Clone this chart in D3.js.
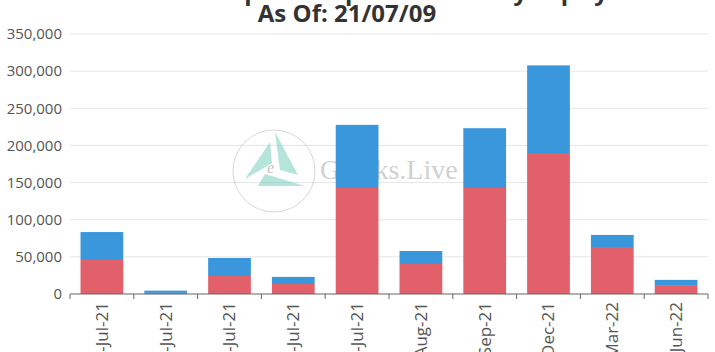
<!DOCTYPE html>
<html>
<head>
<meta charset="utf-8">
<script src="https://cdn.jsdelivr.net/npm/d3@7"></script>
<style>
  body { margin: 0; background: #fff; }
  svg { display: block; font-family: "Open Sans", "Noto Sans", sans-serif; }
</style>
</head>
<body>
<svg width="715" height="352"></svg>
<script>
const expiries = ["9-Jul-21", "10-Jul-21", "16-Jul-21", "23-Jul-21", "30-Jul-21",
                  "27-Aug-21", "24-Sep-21", "31-Dec-21", "25-Mar-22", "24-Jun-22"];
const puts  = [45800, 1500, 24200, 13500, 142700, 40400, 142700, 189800, 62000, 12000];
const calls = [37600, 3000, 24300,  9500,  85000, 17500,  80500, 118000, 17500,  7000];
const yTicks = [0, 50000, 100000, 150000, 200000, 250000, 300000, 350000];

const svg = d3.select("svg"),
      margin = { top: 34, right: 7, bottom: 58, left: 70 },
      width = +svg.attr("width") - margin.left - margin.right,
      height = +svg.attr("height") - margin.top - margin.bottom;

const g = svg.append("g").attr("transform", `translate(${margin.left},${margin.top})`);

const x = d3.scaleBand().domain(expiries).range([0, width]).paddingInner(0.33).paddingOuter(0.165);
const y = d3.scaleLinear().domain([0, 350000]).range([height, 0]);

// Title (first line runs off the top)
svg.append("text")
  .attr("x", 346).attr("y", 0)
  .attr("text-anchor", "middle")
  .style("font-size", "24px").style("font-weight", "bold").style("fill", "#333")
  .text("Deribit BTC Options Open Interest by Expiry");
svg.append("text")
  .attr("x", 347).attr("y", 22)
  .attr("text-anchor", "middle")
  .style("font-size", "24px").style("font-weight", "bold").style("fill", "#333")
  .text("As Of: 21/07/09");

// Grid
g.append("g")
  .selectAll("line")
  .data(yTicks.slice(1))
  .enter().append("line")
  .attr("x1", 0).attr("x2", width)
  .attr("y1", d => y(d)).attr("y2", d => y(d))
  .attr("stroke", "#e6e6e6");

// Y labels
g.append("g")
  .selectAll("text")
  .data(yTicks)
  .enter().append("text")
  .attr("x", -8).attr("y", d => y(d))
  .attr("dy", "0.35em")
  .attr("text-anchor", "end")
  .style("font-size", "15px").style("fill", "#555")
  .text(d => d3.format(",")(d));

// Watermark (behind the bars)
const wm = svg.append("g").attr("opacity", 0.45);
wm.append("circle").attr("cx", 274).attr("cy", 171).attr("r", 41)
  .attr("fill", "none").attr("stroke", "#aaa").attr("stroke-width", 1);
wm.append("path").attr("d", "M270,142 L245,179 L272,163 Z").attr("fill", "#5cc4b0");
wm.append("path").attr("d", "M275,132 L298,175 L280,170 Z").attr("fill", "#5cc4b0");
wm.append("path").attr("d", "M265,174 L305,186 L258,186 Z").attr("fill", "#5cc4b0");
wm.append("text").attr("x", 267).attr("y", 173).text("e")
  .style("font-family", "Liberation Serif, serif").style("font-style", "italic")
  .style("font-size", "16px").style("fill", "#777");
wm.append("text").attr("x", 320).attr("y", 179).text("Greeks.Live")
  .style("font-family", "Liberation Serif, serif").style("font-size", "28px").style("fill", "#999");

const plot = svg.append("g").attr("transform", `translate(${margin.left},${margin.top})`);

// Stacked bars
const stackData = expiries.map((e, i) => ({ expiry: e, puts: puts[i], calls: calls[i] }));
const series = d3.stack().keys(["puts", "calls"])(stackData);
const color = d3.scaleOrdinal().domain(["puts", "calls"]).range(["#e2606a", "#3a97db"]);

plot.selectAll(".layer")
  .data(series)
  .enter().append("g")
  .attr("class", "layer")
  .attr("fill", d => color(d.key))
  .selectAll("rect")
  .data(d => d)
  .enter().append("rect")
  .attr("x", d => x(d.data.expiry))
  .attr("width", x.bandwidth())
  .attr("y", d => y(d[1]))
  .attr("height", d => y(d[0]) - y(d[1]));

// X axis
const xAxis = plot.append("g").attr("transform", `translate(0,${height})`);
xAxis.append("line").attr("x1", 0).attr("x2", width).attr("stroke", "#666");
xAxis.selectAll(".tick")
  .data(d3.range(expiries.length + 1))
  .enter().append("line")
  .attr("x1", i => i * x.step()).attr("x2", i => i * x.step())
  .attr("y1", 0).attr("y2", 5)
  .attr("stroke", "#666");
xAxis.selectAll("text")
  .data(expiries)
  .enter().append("text")
  .attr("transform", d => `translate(${x(d) + x.bandwidth() / 2},8) rotate(-90)`)
  .attr("dy", "0.35em")
  .attr("text-anchor", "end")
  .style("font-size", "17px").style("fill", "#555")
  .text(d => d);
</script>
</body>
</html>
